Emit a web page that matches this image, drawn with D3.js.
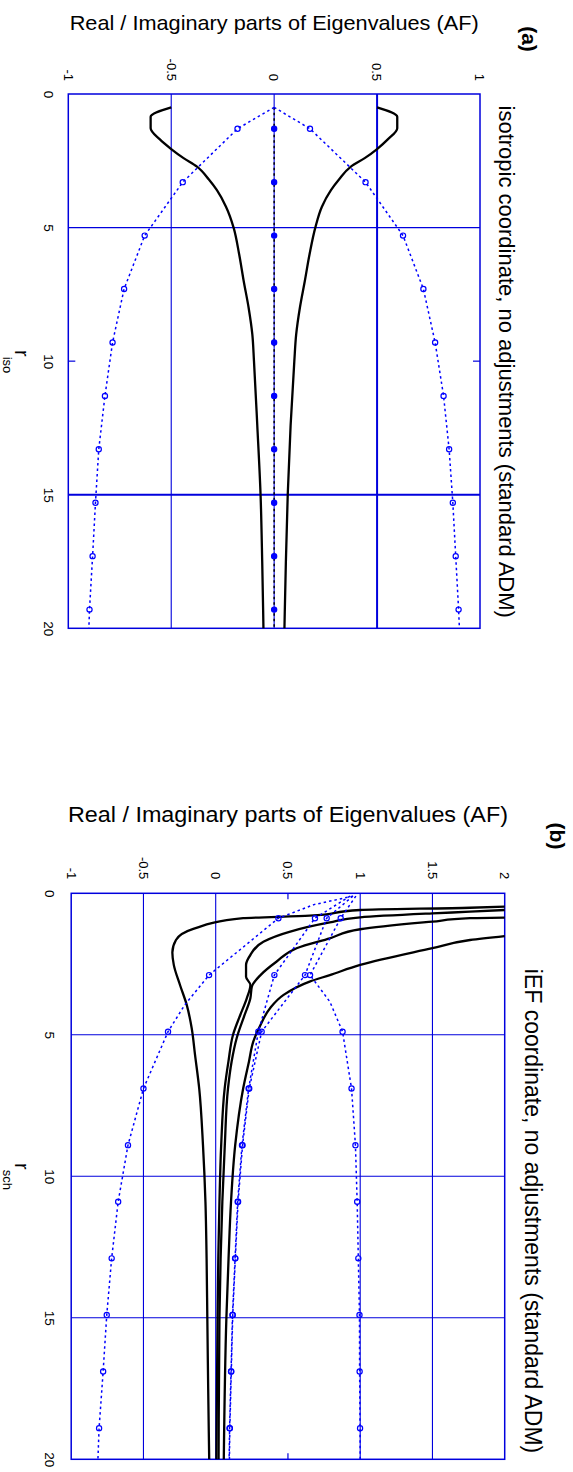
<!DOCTYPE html>
<html>
<head>
<meta charset="utf-8">
<script src="https://cdn.jsdelivr.net/npm/d3@7"></script>
<style>
  body { margin: 0; background: #fff; }
  text { font-family: "Liberation Sans", Arial, sans-serif; }
</style>
</head>
<body>
<script>
// --- panel (a) : isotropic coordinate ---
const aLineR   = [0.5, 0.85, 1.28, 1.7, 2.06, 2.4, 2.72, 3.2, 3.6, 4.22, 5, 6, 7, 8, 9, 10, 12.4, 15, 17.5, 20];
const aLinePos = [0.5, 0.598, 0.598, 0.552, 0.5, 0.44, 0.373, 0.315, 0.276, 0.232, 0.2, 0.172, 0.149, 0.125, 0.107, 0.098, 0.08, 0.066, 0.057, 0.05];
const aLineNeg = [-0.5, -0.6, -0.6, -0.555, -0.5, -0.44, -0.375, -0.317, -0.278, -0.234, -0.197, -0.17, -0.148, -0.124, -0.106, -0.098, -0.082, -0.066, -0.058, -0.052];

const aDotR    = [0.5, 1.3, 3.3, 5.3, 7.3, 9.3, 11.3, 13.3, 15.3, 17.3, 19.3, 20];
const aDotPos  = [0, 0.174, 0.444, 0.626, 0.725, 0.782, 0.823, 0.85, 0.868, 0.882, 0.896, 0.9];
const aDotNeg  = [0, -0.178, -0.444, -0.629, -0.729, -0.785, -0.822, -0.852, -0.868, -0.882, -0.897, -0.9];
const aDotZero = [0, 0, 0, 0, 0, 0, 0, 0, 0, 0, 0, 0];
const aMarkR   = [1.3, 3.3, 5.3, 7.3, 9.3, 11.3, 13.3, 15.3, 17.3, 19.3];

// --- panel (b) : iEF coordinate ---
const b1R = [0.47, 0.51, 0.59, 0.79, 0.88, 1.26, 1.65, 2.09, 2.53, 3.24, 3.95, 4.77, 5.71, 6.9, 8.9, 10.9, 12.9, 15, 17.5, 20];
const b1V = [2.0, 1.76, 1.0, 0.65, 0.19, -0.155, -0.275, -0.3, -0.29, -0.247, -0.2, -0.166, -0.143, -0.114, -0.088, -0.071, -0.063, -0.058, -0.052, -0.045];
const b2R = [0.59, 0.65, 0.71, 0.85, 1.03, 1.36, 1.71, 2.18, 2.53, 2.95, 3.24, 3.71, 4.3, 5.0, 5.95, 6.9, 8.9, 10.9, 12.9, 15, 20];
const b2V = [2.0, 1.76, 1.5, 1.0, 0.79, 0.51, 0.33, 0.24, 0.21, 0.21, 0.24, 0.215, 0.17, 0.12, 0.088, 0.062, 0.038, 0.026, 0.018, 0.013, 0.005];
const b3R = [0.86, 0.88, 1.0, 1.27, 1.59, 1.94, 2.42, 2.89, 3.3, 3.71, 4.3, 5.12, 5.95, 6.9, 8.9, 10.9, 12.9, 15, 20];
const b3V = [2.0, 1.76, 1.5, 1.0, 0.79, 0.56, 0.42, 0.31, 0.25, 0.24, 0.2, 0.145, 0.11, 0.085, 0.063, 0.046, 0.034, 0.026, 0.02];
const b4R = [1.51, 1.65, 1.94, 2.53, 2.89, 3.12, 3.59, 4.06, 4.65, 5.24, 5.95, 6.9, 8.9, 10.9, 12.9, 15, 20];
const b4V = [2.0, 1.76, 1.5, 1.0, 0.79, 0.65, 0.47, 0.376, 0.31, 0.26, 0.23, 0.19, 0.135, 0.106, 0.089, 0.074, 0.056];

const d1R = [0.1, 0.4, 0.88, 2.89, 3.95, 4.89, 6.9, 8.9, 10.9, 12.9, 14.9, 16.9, 18.9, 20];
const d1V = [0.95, 0.68, 0.434, -0.046, -0.215, -0.33, -0.5, -0.607, -0.675, -0.72, -0.754, -0.779, -0.807, -0.815];
const d2R = [0.1, 0.88, 2.89, 4.89, 6.9, 8.9, 10.9, 12.9, 14.9, 16.9, 18.9, 20];
const d2V = [0.93, 0.687, 0.406, 0.295, 0.228, 0.182, 0.152, 0.134, 0.116, 0.106, 0.096, 0.093];
const d3R = [0.1, 0.88, 2.89, 4.89, 6.9, 8.9, 10.9, 12.9, 14.9, 16.9, 18.9, 20];
const d3V = [0.95, 0.768, 0.618, 0.318, 0.232, 0.186, 0.155, 0.136, 0.118, 0.108, 0.098, 0.095];
const d4R = [0.1, 0.88, 2.89, 3.83, 4.89, 6.9, 8.9, 10.9, 12.9, 14.9, 16.9, 18.9, 20];
const d4V = [0.97, 0.865, 0.653, 0.79, 0.878, 0.94, 0.967, 0.979, 0.987, 0.995, 0.996, 0.999, 1.0];
const bMarkR = [0.88, 2.89, 4.89, 6.9, 8.9, 10.9, 12.9, 14.9, 16.9, 18.9];

const rTicks = [0, 5, 10, 15, 20];
const aTicks = [-1, -0.5, 0, 0.5, 1];
const bTicks = [-1, -0.5, 0, 0.5, 1, 1.5, 2];

const blue = "#0000dd";
const zip = (rs, vs) => rs.map((r, i) => [r, vs[i]]);

const svg = d3.select("body").append("svg")
  .attr("width", 573).attr("height", 1472);

// chaque panneau est dessiné "à plat" puis tourné de 90°
function panel(o) {
  const g = svg.append("g").attr("transform", `translate(${o.tx},${o.ty}) rotate(90)`);
  const x = d3.scaleLinear().domain([0, 20]).range([0, o.W]);
  const y = d3.scaleLinear().domain(o.vDomain).range([o.H, 0]);

  // grille
  g.selectAll(".gv").data(o.vGrid).join("line")
    .attr("x1", 0).attr("x2", o.W)
    .attr("y1", d => y(d)).attr("y2", d => y(d))
    .attr("stroke", blue).attr("stroke-width", d => o.thick.includes(d) ? 2 : 1.1);
  g.selectAll(".gr").data(o.rGrid).join("line")
    .attr("x1", d => x(d)).attr("x2", d => x(d))
    .attr("y1", 0).attr("y2", o.H)
    .attr("stroke", blue).attr("stroke-width", d => o.thick.includes(d) ? 2 : 1.1);

  // petites graduations seules
  o.vTickOnly.forEach(v => {
    g.append("line").attr("x1", 0).attr("x2", 6).attr("y1", y(v)).attr("y2", y(v)).attr("stroke", blue).attr("stroke-width", 1.2);
    g.append("line").attr("x1", o.W - 6).attr("x2", o.W).attr("y1", y(v)).attr("y2", y(v)).attr("stroke", blue).attr("stroke-width", 1.2);
  });
  o.rTickOnly.forEach(r => {
    g.append("line").attr("x1", x(r)).attr("x2", x(r)).attr("y1", 0).attr("y2", 7).attr("stroke", blue).attr("stroke-width", 1.2);
    g.append("line").attr("x1", x(r)).attr("x2", x(r)).attr("y1", o.H - 7).attr("y2", o.H).attr("stroke", blue).attr("stroke-width", 1.2);
  });

  g.append("rect").attr("width", o.W).attr("height", o.H)
    .attr("fill", "none").attr("stroke", blue).attr("stroke-width", 1.5);

  // axes
  const ax = g.append("g")
    .call(d3.axisLeft(y).tickValues(o.vTicks).tickSize(0).tickPadding(o.vPad).tickFormat(d => String(d)));
  ax.select(".domain").remove();
  ax.selectAll("text").attr("font-size", 13).attr("fill", "#000")
    .attr("font-family", "Liberation Sans, Arial, sans-serif");

  const bx = g.append("g").attr("transform", `translate(0,${o.H})`)
    .call(d3.axisBottom(x).tickValues(rTicks).tickSize(0).tickPadding(o.rPad).tickFormat(d => String(d)));
  bx.select(".domain").remove();
  bx.selectAll("text").attr("font-size", 13.5).attr("fill", "#000")
    .attr("font-family", "Liberation Sans, Arial, sans-serif");

  const line = d3.line().x(d => x(d[0])).y(d => y(d[1]));
  const smooth = d3.line().x(d => x(d[0])).y(d => y(d[1])).curve(d3.curveMonotoneX);

  // courbes noires
  g.selectAll(".blk").data(o.solid).join("path")
    .attr("d", smooth).attr("fill", "none")
    .attr("stroke", "#000").attr("stroke-width", 2.3).attr("stroke-linejoin", "round");

  // courbes pointillées bleues + marqueurs
  o.dotted.forEach(s => {
    g.append("path").datum(s.pts).attr("d", line).attr("fill", "none")
      .attr("stroke", s.dark ? "#000" : "#0000ff").attr("stroke-width", 1.5)
      .attr("stroke-dasharray", "2.5,3");
    g.selectAll(null).data(s.pts.filter(p => o.markR.includes(p[0]))).join("circle")
      .attr("cx", d => x(d[0])).attr("cy", d => y(d[1])).attr("r", 2.6)
      .attr("fill", s.dark ? "#0000ff" : "none").attr("stroke", "#0000ff").attr("stroke-width", 1.2);
  });

  // titre (en haut dans le repère d'origine)
  g.append("text").attr("x", o.subX).attr("y", o.subY)
    .attr("text-anchor", "middle").attr("font-size", o.subSize).attr("fill", "#000")
    .text(o.subtitle);
  g.append("text").attr("x", o.tagX).attr("y", o.tagY)
    .attr("text-anchor", "middle").attr("dominant-baseline", "central")
    .attr("font-size", 21).attr("font-weight", "bold").attr("fill", "#000")
    .text(o.tag);

  // libellé r
  const rl = g.append("text").attr("x", o.rLabX).attr("y", o.rLabY).attr("fill", "#000").attr("font-size", 20);
  rl.append("tspan").text("r");
  rl.append("tspan").attr("dy", 12).attr("font-size", 13).text(o.rSub);

  // libellé des valeurs, horizontal à l'écran
  svg.append("text").attr("x", o.tx - o.H / 2).attr("y", o.titleY)
    .attr("text-anchor", "middle").attr("font-size", o.titleSize).attr("fill", "#000")
    .attr("textLength", o.titleLen).attr("lengthAdjust", "spacingAndGlyphs")
    .text(o.title);
}

panel({
  tx: 480, ty: 94, W: 534.3, H: 411.7, vDomain: [-1, 1],
  vGrid: [-0.5, 0, 0.5], rGrid: [5, 15], thick: [0.5, 15],
  vTickOnly: [], rTickOnly: [10],
  vTicks: aTicks, vPad: 13, rPad: 15,
  solid: [zip(aLineR, aLinePos), zip(aLineR, aLineNeg)],
  dotted: [
    { pts: zip(aDotR, aDotZero), dark: true },
    { pts: zip(aDotR, aDotPos) },
    { pts: zip(aDotR, aDotNeg) }
  ],
  markR: aMarkR,
  subtitle: "isotropic coordinate, no adjustments (standard ADM)",
  subX: 267.7, subY: -19.3, subSize: 22,
  tag: "(a)", tagX: -55, tagY: -49,
  rLabX: 256, rLabY: 465.4, rSub: "iso",
  title: "Real / Imaginary parts of Eigenvalues (AF)", titleY: 30, titleSize: 21, titleLen: 409
});

panel({
  tx: 504.7, ty: 893.3, W: 566, H: 433.5, vDomain: [-1, 2],
  vGrid: [-0.5, 0, 1, 1.5], rGrid: [5, 10, 15], thick: [],
  vTickOnly: [0.5], rTickOnly: [],
  vTicks: bTicks, vPad: 14, rPad: 17,
  solid: [zip(b1R, b1V), zip(b2R, b2V), zip(b3R, b3V), zip(b4R, b4V)],
  dotted: [
    { pts: zip(d1R, d1V) },
    { pts: zip(d2R, d2V) },
    { pts: zip(d3R, d3V) },
    { pts: zip(d4R, d4V) }
  ],
  markR: bMarkR,
  subtitle: "iEF coordinate, no adjustments (standard ADM)",
  subX: 317.7, subY: -20.3, subSize: 23,
  tag: "(b)", tagX: -57.3, tagY: -53.3,
  rLabX: 269.7, rLabY: 490.1, rSub: "sch",
  title: "Real / Imaginary  parts of Eigenvalues (AF)", titleY: 821.7, titleSize: 22.5, titleLen: 440
});
</script>
</body>
</html>
